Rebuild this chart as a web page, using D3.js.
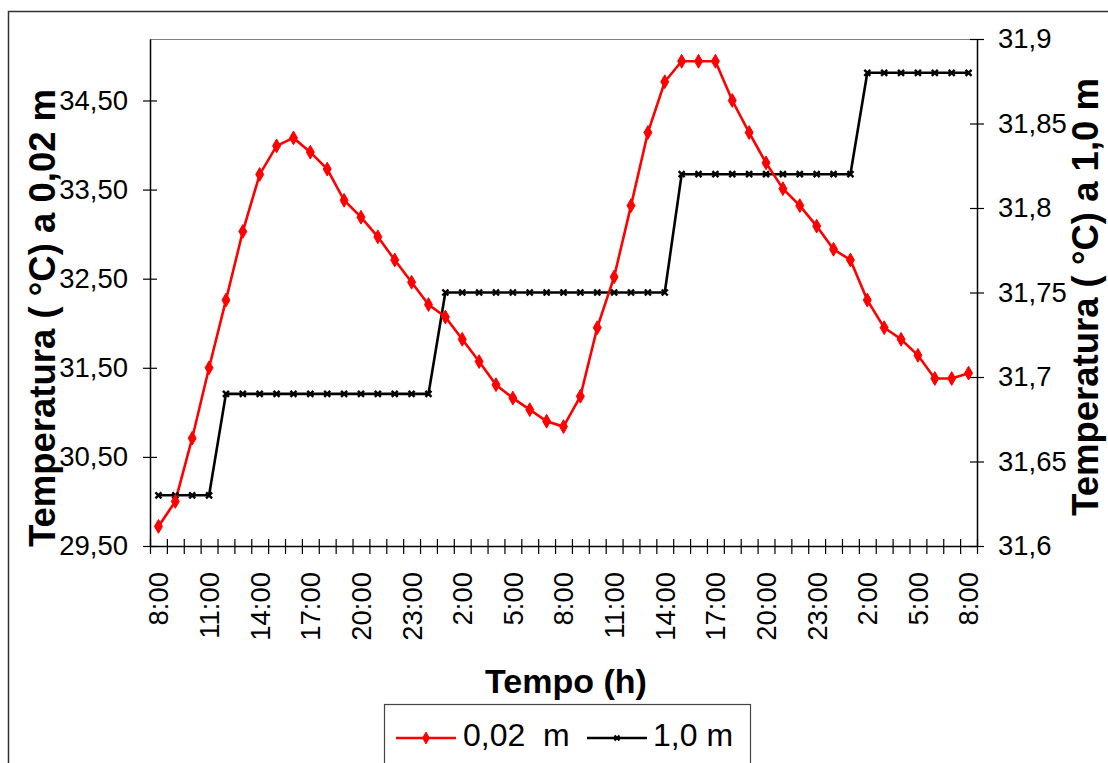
<!DOCTYPE html>
<html>
<head>
<meta charset="utf-8">
<script src="https://cdn.jsdelivr.net/npm/d3@7"></script>
<style>
  html, body { margin: 0; padding: 0; background: #fff; }
  svg { display: block; }
  text { font-family: "Liberation Sans", Arial, sans-serif; fill: #000; }
</style>
</head>
<body>
<svg id="chart" width="1108" height="763"></svg>
<script>
// Hourly readings over 48 h, starting at 8:00
const hours = [
  "8:00","9:00","10:00","11:00","12:00","13:00","14:00","15:00","16:00","17:00",
  "18:00","19:00","20:00","21:00","22:00","23:00","0:00","1:00","2:00","3:00",
  "4:00","5:00","6:00","7:00","8:00","9:00","10:00","11:00","12:00","13:00",
  "14:00","15:00","16:00","17:00","18:00","19:00","20:00","21:00","22:00","23:00",
  "0:00","1:00","2:00","3:00","4:00","5:00","6:00","7:00","8:00"
];

// Temperature at 0,02 m depth (left axis, °C)
const temp002 = [
  29.72, 30.00, 30.71, 31.50, 32.26, 33.03, 33.67, 33.99, 34.08, 33.92,
  33.73, 33.38, 33.19, 32.97, 32.71, 32.46, 32.21, 32.07, 31.82, 31.57,
  31.31, 31.16, 31.03, 30.90, 30.84, 31.18, 31.95, 32.52, 33.32, 34.14,
  34.71, 34.94, 34.94, 34.94, 34.50, 34.14, 33.80, 33.51, 33.32, 33.09,
  32.83, 32.71, 32.26, 31.95, 31.82, 31.64, 31.38, 31.38, 31.44
];

// Temperature at 1,0 m depth (right axis, °C)
const temp10 = [
  31.63, 31.63, 31.63, 31.63, 31.69, 31.69, 31.69, 31.69, 31.69, 31.69,
  31.69, 31.69, 31.69, 31.69, 31.69, 31.69, 31.69, 31.75, 31.75, 31.75,
  31.75, 31.75, 31.75, 31.75, 31.75, 31.75, 31.75, 31.75, 31.75, 31.75,
  31.75, 31.82, 31.82, 31.82, 31.82, 31.82, 31.82, 31.82, 31.82, 31.82,
  31.82, 31.82, 31.88, 31.88, 31.88, 31.88, 31.88, 31.88, 31.88
];

const leftTicks = [29.5, 30.5, 31.5, 32.5, 33.5, 34.5];
const rightTicks = [31.6, 31.65, 31.7, 31.75, 31.8, 31.85, 31.9];
const seriesNames = ["0,02  m", "1,0 m"];

const svg = d3.select("#chart");
const plot = { left: 150, right: 977, top: 39, bottom: 546 };

// Outer chart frame
svg.append("rect")
  .attr("x", 8.5).attr("y", 11.5).attr("width", 1120).attr("height", 780)
  .attr("fill", "none").attr("stroke", "#333").attr("stroke-width", 1.5);

// Plot area frame (top edge)
svg.append("line")
  .attr("x1", plot.left).attr("x2", plot.right)
  .attr("y1", plot.top + 0.5).attr("y2", plot.top + 0.5)
  .attr("stroke", "#808080").attr("stroke-width", 1.2);

const idx = d3.range(hours.length);
const x = d3.scaleBand().domain(idx).range([plot.left, plot.right]).padding(0);
const xc = i => x(i) + x.bandwidth() / 2;
const xEdge = d3.scaleLinear().domain([0, hours.length]).range([plot.left, plot.right]);

const yL = d3.scaleLinear().domain([29.5, 35.19]).range([plot.bottom, plot.top]);
const yR = d3.scaleLinear().domain([31.6, 31.9]).range([plot.bottom, plot.top]);

const fmtL = d => d3.format(".2f")(d).replace(".", ",");
const fmtR = d => String(+d.toFixed(2)).replace(".", ",");

// Left axis
const gL = svg.append("g").attr("transform", `translate(${plot.left},0)`)
  .call(d3.axisLeft(yL).tickValues(leftTicks).tickFormat(fmtL)
    .tickSizeInner(7).tickSizeOuter(0).tickPadding(15));
gL.selectAll(".tick line").attr("x1", 7).attr("x2", -7);

// Right axis
const gR = svg.append("g").attr("transform", `translate(${plot.right},0)`)
  .call(d3.axisRight(yR).tickValues(rightTicks).tickFormat(fmtR)
    .tickSizeInner(7).tickSizeOuter(0).tickPadding(14));
gR.selectAll(".tick line").attr("x1", -7).attr("x2", 7);

// Bottom axis: tick marks on category boundaries
const gB = svg.append("g").attr("transform", `translate(0,${plot.bottom})`)
  .call(d3.axisBottom(xEdge).tickValues(d3.range(hours.length + 1))
    .tickFormat("").tickSizeInner(8).tickSizeOuter(0));
gB.selectAll(".tick line").attr("y1", -7).attr("y2", 8);

// Category labels every 3 hours
const labelIdx = idx.filter(i => i % 3 === 0);
const gBL = svg.append("g").attr("transform", `translate(0,${plot.bottom})`)
  .call(d3.axisBottom(x).tickValues(labelIdx).tickFormat(i => hours[i])
    .tickSize(0).tickPadding(0));
gBL.select(".domain").remove();
gBL.selectAll(".tick text")
  .attr("transform", "translate(0,26) rotate(-90)")
  .attr("x", 0).attr("y", 0).attr("dy", "0.36em")
  .attr("text-anchor", "end");

svg.selectAll(".domain").attr("stroke", "#000").attr("stroke-width", 1.5);
svg.selectAll(".tick line").attr("stroke", "#000").attr("stroke-width", 1.2);
svg.selectAll(".tick text").style("font-size", "27.5px").attr("fill", "#000");

// Series lines
const lineL = d3.line().x((d, i) => xc(i)).y(d => yL(d));
const lineR = d3.line().x((d, i) => xc(i)).y(d => yR(d));

svg.append("path").datum(temp10)
  .attr("d", lineR).attr("fill", "none")
  .attr("stroke", "#000").attr("stroke-width", 2.6);

svg.append("path").datum(temp002)
  .attr("d", lineL).attr("fill", "none")
  .attr("stroke", "#ff0000").attr("stroke-width", 2.6);

// Markers
const cross = s => `M${-s},${-s}L${s},${s}M${-s},${s}L${s},${-s}`;
svg.append("g").selectAll("path").data(temp10).join("path")
  .attr("transform", (d, i) => `translate(${xc(i)},${yR(d)})`)
  .attr("d", cross(3)).attr("stroke", "#000").attr("stroke-width", 2.4).attr("fill", "none");

const diamond = d3.symbol().type(d3.symbolDiamond).size(55);
svg.append("g").selectAll("path").data(temp002).join("path")
  .attr("transform", (d, i) => `translate(${xc(i)},${yL(d)})`)
  .attr("d", diamond).attr("fill", "#ff0000").attr("stroke", "#ff0000").attr("stroke-width", 1);

// Axis titles
svg.append("text")
  .attr("transform", "translate(55,318) rotate(-90)")
  .attr("text-anchor", "middle")
  .style("font-size", "36.5px").style("font-weight", "bold")
  .text("Temperatura ( °C) a 0,02 m");

svg.append("text")
  .attr("transform", "translate(1098,297) rotate(-90)")
  .attr("text-anchor", "middle")
  .style("font-size", "36.5px").style("font-weight", "bold")
  .text("Temperatura ( °C) a 1,0 m");

svg.append("text")
  .attr("x", 566).attr("y", 693)
  .attr("text-anchor", "middle")
  .style("font-size", "34px").style("font-weight", "bold")
  .text("Tempo (h)");

// Legend
const lg = svg.append("g");
lg.append("rect")
  .attr("x", 384.5).attr("y", 704.5).attr("width", 366).attr("height", 80)
  .attr("fill", "#fff").attr("stroke", "#444").attr("stroke-width", 1.2);

const legendItems = [
  { name: seriesNames[0], color: "#ff0000", x0: 396, x1: 456, tx: 463, mark: "diamond" },
  { name: seriesNames[1], color: "#000", x0: 587, x1: 647, tx: 653, mark: "cross" }
];
const ly = 738;
legendItems.forEach(it => {
  lg.append("line").attr("x1", it.x0).attr("x2", it.x1).attr("y1", ly).attr("y2", ly)
    .attr("stroke", it.color).attr("stroke-width", 2.6);
  const mx = (it.x0 + it.x1) / 2;
  if (it.mark === "diamond") {
    lg.append("path").attr("transform", `translate(${mx},${ly})`)
      .attr("d", d3.symbol().type(d3.symbolDiamond).size(40))
      .attr("fill", it.color).attr("stroke", it.color);
  } else {
    lg.append("path").attr("transform", `translate(${mx},${ly})`)
      .attr("d", cross(2.5)).attr("stroke", it.color).attr("stroke-width", 2.2);
  }
  lg.append("text").attr("x", it.tx).attr("y", 746)
    .style("font-size", "32px").style("white-space", "pre")
    .text(it.name);
});
</script>
</body>
</html>
